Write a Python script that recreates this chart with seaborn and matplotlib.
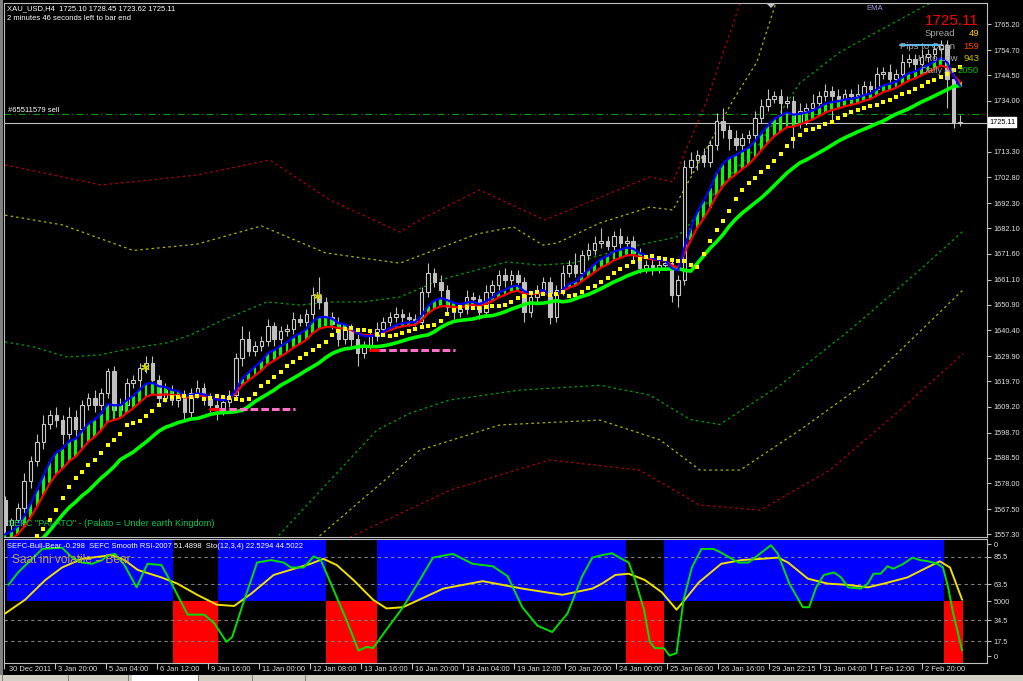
import numpy as np
import pandas as pd
import matplotlib
matplotlib.use('Agg')
import matplotlib.pyplot as plt
import seaborn as sns

# ---------------- data (XAU_USD, H4) ----------------
FIRST_OPEN = 1571.0
closes = [
    1561, 1563, 1568, 1579, 1587, 1595, 1602, 1606, 1604, 1598,
    1605, 1600, 1610, 1613, 1610, 1615, 1624, 1608, 1610, 1619,
    1620, 1625, 1627, 1620, 1613, 1616, 1612, 1614, 1607, 1615,
    1617, 1613, 1610, 1608, 1611, 1614, 1629, 1637, 1632, 1634,
    1636, 1642, 1637, 1640, 1641, 1645, 1644, 1647, 1655, 1652,
    1646, 1643, 1637, 1641, 1637, 1631, 1634, 1638, 1641, 1644,
    1646, 1647, 1646, 1645, 1644, 1656, 1664, 1660, 1657, 1650,
    1648, 1649, 1654, 1653, 1648, 1656, 1659, 1663, 1661, 1663,
    1660, 1648, 1654, 1657, 1660, 1646, 1657, 1664, 1667, 1664,
    1671, 1673, 1676, 1677, 1675, 1679, 1676, 1677, 1672, 1666,
    1667, 1666, 1667, 1668, 1655, 1661, 1707, 1710, 1712, 1709,
    1716, 1726, 1722, 1719, 1716, 1719, 1720, 1727, 1732, 1735,
    1736, 1733, 1734, 1725, 1730, 1731, 1733, 1736, 1738, 1736,
    1735, 1737, 1736, 1737, 1740, 1739, 1745, 1746, 1743, 1745,
    1750, 1751, 1749, 1752, 1753, 1755, 1757, 1743, 1725.10, 1725.11,
]
wick_hi = [
    2, 1, 2, 3, 2, 3, 4, 2, 3, 2,
    4, 3, 2, 2, 3, 2, 1, 2, 3, 2,
    2, 2, 3, 3, 2, 3, 2, 2, 2, 2,
    3, 2, 2, 2, 3, 2, 2, 5, 3, 2,
    2, 3, 2, 2, 2, 3, 2, 2, 3, 7,
    2, 2, 3, 2, 2, 2, 2, 2, 3, 2,
    2, 3, 2, 2, 2, 2, 4, 2, 3, 2,
    2, 2, 3, 2, 2, 3, 2, 2, 3, 2,
    2, 2, 2, 2, 2, 2, 2, 3, 2, 5,
    2, 3, 3, 5, 2, 2, 3, 2, 2, 2,
    2, 3, 2, 2, 2, 2, 3, 3, 2, 3,
    2, 3, 5, 2, 3, 2, 2, 3, 3, 4,
    2, 3, 2, 2, 3, 2, 4, 2, 3, 2,
    3, 2, 2, 4, 2, 2, 3, 2, 3, 2,
    3, 2, 2, 3, 2, 2, 2, 2, 2, 3.34,
]
wick_lo = [
    3, 2, 2, 2, 3, 2, 3, 2, 3, 4,
    2, 3, 2, 2, 3, 2, 2, 3, 2, 2,
    2, 3, 2, 4, 3, 2, 2, 3, 3, 2,
    2, 3, 3, 4, 2, 2, 2, 3, 2, 2,
    2, 2, 3, 2, 2, 2, 2, 2, 2, 3,
    2, 2, 3, 2, 3, 5, 2, 2, 2, 2,
    2, 2, 2, 3, 2, 2, 2, 2, 3, 3,
    3, 2, 2, 2, 3, 2, 2, 2, 3, 2,
    2, 4, 2, 2, 2, 3, 2, 2, 2, 2,
    2, 2, 2, 2, 2, 3, 2, 2, 3, 2,
    2, 3, 2, 2, 3, 5, 2, 3, 4, 2,
    2, 2, 3, 5, 2, 2, 2, 2, 2, 2,
    2, 5, 2, 10, 2, 6, 2, 2, 2, 10,
    2, 2, 2, 2, 2, 3, 2, 2, 2, 2,
    2, 2, 3, 2, 2, 2, 2, 12, 2, 1.48,
]
# indicator levels at the left edge of the window (older history is off-chart)
seed_blue, seed_red, seed_dots, seed_green = 1556, 1553, 1552, 1548

# dotted bands (bar index, price)
up_green_t = [0, 4.4, 9.7, 14.8, 20, 25.3, 28.9, 34, 40.9, 46, 50.7, 55.9, 61.6, 67.9, 78.3,
              83.5, 88.6, 97.5, 104.8, 106.4, 111.5, 117.8, 124, 130.3, 143.8, 149.5]
up_green_p = [1635.7, 1633.7, 1629.5, 1630.4, 1633.2, 1635.3, 1638.5, 1644.6, 1652, 1650.7, 1652,
              1652, 1654, 1661, 1668.3, 1667, 1667.9, 1674.4, 1678.5, 1682.5, 1698.9, 1716.8,
              1741.3, 1754, 1773.2, 1780]
up_yellow_t = [0, 9, 20, 30, 40, 50, 61.6, 73.6, 79.3, 83.9, 86.1, 92.8, 100.6, 104.2, 113.6, 117.3, 121]
up_yellow_p = [1687.4, 1683.4, 1673, 1675.6, 1683, 1672, 1667.8, 1679.7, 1682.6, 1675.2, 1676,
               1684.2, 1690.7, 1689.5, 1734.4, 1749.9, 1780]
up_red_t = [0, 15, 30, 41.3, 50.7, 61.6, 64.7, 74, 84.2, 100.6, 104.2, 109.5, 114.7]
up_red_p = [1707.9, 1699.7, 1703.8, 1709.9, 1693.6, 1680.5, 1685.4, 1697.7, 1685.4, 1703, 1701,
            1734.4, 1774]
lo_green_t = [42.1, 58, 63.2, 69.4, 80.3, 92.8, 100.6, 106.9, 111.5, 120.9, 131.8, 142.7, 149.5]
lo_green_p = [1555, 1599.7, 1606.6, 1612, 1616, 1618, 1614, 1604, 1602, 1618, 1640.5, 1665, 1681]
lo_yellow_t = [48.4, 64.7, 77.2, 92.8, 102.2, 108.4, 114.7, 124, 134.9, 149.5]
lo_yellow_p = [1555, 1591.5, 1601.8, 1603.8, 1595.7, 1583.4, 1583.4, 1599.7, 1620.2, 1657]
lo_red_t = [53, 69.4, 85, 99, 108.4, 117.8, 128.7, 139.6, 149.5]
lo_red_p = [1555, 1575.2, 1587.5, 1583.4, 1569.1, 1567, 1583.4, 1607.8, 1631]

# oscillator window
bull_bear_runs = [(26, 1), (7, -1), (17, 1), (8, -1), (39, 1), (6, -1), (44, 1), (3, -1)]
osc_green_t = [-0.3, 1.2, 5, 8.1, 9.7, 11.2, 12.8, 14.4, 15.3, 16.4, 17.9, 19.8, 21.5, 23.7, 25.3,
               27.8, 30.4, 32, 33.9, 34.8, 36.7, 38.7, 40.9, 42.9, 44, 46, 47.6, 48.7, 51.2, 52.7,
               54.6, 55.9, 56.9, 59, 61.6, 64, 66.3, 69.4, 72.5, 75.7, 78, 80.3, 82.7, 85, 87.4,
               89.7, 91.3, 92.8, 94.4, 95.9, 97, 98, 99.4, 100.3, 101.1, 102.5, 103.4, 104.5,
               105.6, 106.9, 108.4, 110.3, 111.5, 114.2, 115.8, 117.3, 119.3, 120.4, 122.2, 124.3,
               125.3, 126.4, 127.6, 129.2, 130.3, 131.4, 133.4, 134.5, 135.4, 136.5, 137.6, 138.5,
               140.1, 141.5, 142.7, 144, 145.4, 146.3, 147.1, 147.9, 149.3]
osc_green_v = [63, 73, 92, 93, 85, 81, 80, 83, 87, 88, 79, 61, 80, 79, 64,
               39, 39, 32, 17, 21, 51, 81, 83, 81, 77, 77, 86, 83, 53, 35,
               10, 13, 12, 27, 45, 65, 85, 88, 80, 78, 70, 45, 30, 25, 40,
               70, 85, 87, 88.5, 84, 81, 67, 43, 17, 12, 12, 6, 8,
               51, 77, 92, 92, 89, 81, 81, 87, 95, 88, 64, 45,
               45, 61, 71, 73, 69, 61, 60, 64, 72, 72, 78, 76,
               80, 85, 83, 82, 80, 77, 61, 40, 10]
osc_yellow_t = [-0.8, 2.3, 5.5, 8.1, 11.2, 15.9, 17.9, 20, 23.7, 26.2, 29.3, 32.4, 35.1, 37.8, 41.3,
                44.5, 47.1, 49.1, 51.2, 53.8, 56.9, 59, 61.6, 67.9, 74.1, 80.3, 86.6, 91.3, 92.8,
                94.9, 97, 99.5, 102.2, 104.5, 105.8, 108, 111.5, 114.7, 117.8, 120.4, 122, 125.1,
                128.2, 131.4, 134.5, 137, 140.7, 143.8, 145.8, 147.4, 149.3]
osc_yellow_v = [40, 51, 67, 77, 84, 87, 83, 75, 69, 64, 55, 47, 46, 56, 71,
                76, 80, 84, 79, 67, 51, 44, 45, 60, 66, 60, 55, 60, 64,
                71, 72, 67, 57, 43, 51, 65, 80, 83, 84, 85, 81, 68,
                64, 63, 61, 64, 69, 77, 82, 77, 51]

price_ticks = [1765.2, 1754.7, 1744.5, 1734.0, 1713.3, 1702.8, 1692.3, 1682.1, 1671.6, 1661.1,
               1650.9, 1640.4, 1629.9, 1619.7, 1609.2, 1598.7, 1588.5, 1578.0, 1567.5, 1557.3]
time_labels = ["30 Dec 2011", "3 Jan 20:00", "5 Jan 04:00", "6 Jan 12:00", "9 Jan 16:00",
               "11 Jan 00:00", "12 Jan 08:00", "13 Jan 16:00", "16 Jan 20:00", "18 Jan 04:00",
               "19 Jan 12:00", "20 Jan 20:00", "24 Jan 00:00", "25 Jan 08:00", "26 Jan 16:00",
               "29 Jan 22:15", "31 Jan 04:00", "1 Feb 12:00", "2 Feb 20:00"]
osc_levels = [85.5, 63.5, 34.5, 17.5]
osc_tick_pos = [95.8, 85.5, 63.5, 50, 34.5, 17.5, 5.6]
osc_tick_lab = ['0', '85.5', '63.5', '5000', '34.5', '17.5', '0']

SELL_PRICE = 1728.6
BID = 1725.11
pending = [(32, 45.2, 1608.3), (57, 70.2, 1632.4)]
stars = [(21.8, 1625.5), (48.7, 1654.6)]

# ---------------- figure ----------------
sns.set_theme(style='dark', rc={'axes.facecolor': 'black', 'figure.facecolor': 'black'})
plt.rcParams['font.family'] = ['Liberation Sans', 'DejaVu Sans']

W, H = 1023, 681
fig = plt.figure(figsize=(W / 100, H / 100), dpi=100)


def px_box(x0, y0, x1, y1):
    return [x0 / W, 1 - y1 / H, (x1 - x0) / W, (y1 - y0) / H]


def ptext(x, y, s, **kw):
    kw.setdefault('va', 'center')
    fig.text(x / W, 1 - y / H, s, **kw)


FG = '#c0c0c0'
ax = fig.add_axes(px_box(4, 3, 987, 537))
ax2 = fig.add_axes(px_box(4, 539, 987, 663))
XLIM = (-0.16, 153.2)
for a in (ax, ax2):
    a.set_facecolor('black')
    a.set_xlim(*XLIM)
    for sp in a.spines.values():
        sp.set_color(FG)
        sp.set_linewidth(0.8)
    a.grid(False)

ax.set_ylim(1556.08, 1773.97)

bars = np.arange(len(closes))
c = np.array(closes, dtype=float)
o = np.r_[FIRST_OPEN, c[:-1]]
hi = np.maximum(o, c) + np.array(wick_hi)
lo = np.minimum(o, c) - np.array(wick_lo)

# dotted bands
for t, p, col in [(up_green_t, up_green_p, '#00a000'), (up_yellow_t, up_yellow_p, '#b0b000'),
                  (up_red_t, up_red_p, '#b00000'), (lo_green_t, lo_green_p, '#00a000'),
                  (lo_yellow_t, lo_yellow_p, '#b0b000'), (lo_red_t, lo_red_p, '#b00000')]:
    sns.lineplot(x=t, y=p, ax=ax, color=col, linewidth=0.9, linestyle=(0, (2, 2.5)), zorder=1)

# order lines
ax.axhline(SELL_PRICE, color='#00a000', lw=0.8, linestyle=(0, (6, 3, 1, 3)), zorder=1)
ax.axhline(BID, color=FG, lw=0.8, zorder=1)
for b0, b1, p in pending:
    ax.plot([b0 + 1.2, b1], [p, p], color='#ff6ec7', lw=2.2, linestyle=(0, (2.5, 1)), zorder=6)
    ax.plot([b0, b0 + 1.2], [p, p], color='#ff0000', lw=2.2, zorder=6)

# candles
ax.vlines(bars, lo, hi, color=FG, lw=0.8, zorder=2)
up = c >= o
body = np.maximum(np.abs(c - o), 0.35)
ax.bar(bars[up], body[up], bottom=np.minimum(o, c)[up], width=0.55,
       facecolor='black', edgecolor='#c8c8c8', linewidth=0.8, zorder=3)
ax.bar(bars[~up], body[~up], bottom=np.minimum(o, c)[~up], width=0.55,
       facecolor='#c0c0c0', edgecolor='#c0c0c0', linewidth=0.8, zorder=3)


def ema(span, seed, shift=0):
    pre = np.r_[[seed] * (shift + 1), c]
    out = pd.Series(pre).ewm(span=span, adjust=False).mean().shift(shift)
    return out.iloc[shift + 1:].to_numpy()


# moving-average indicators recomputed from the candles
blue = ema(8, seed_blue)
red = ema(13, seed_red)
dots = ema(14, seed_dots, shift=3)
green = ema(26, seed_green, shift=2)

hist_col = np.where(blue >= red, '#00ff00', '#ffa500')
ax.bar(bars, blue - red, bottom=red, width=0.45, color=hist_col, linewidth=0, zorder=4)
sns.lineplot(x=bars, y=green, ax=ax, color='#00ff00', linewidth=2.6, zorder=5)
sns.lineplot(x=bars, y=red, ax=ax, color='#ff0000', linewidth=1.6, zorder=5)
sns.lineplot(x=bars, y=blue, ax=ax, color='#0000ff', linewidth=1.6, zorder=5)
sns.scatterplot(x=bars, y=dots, ax=ax, color='#ffff00', marker='s', s=5, linewidth=0, zorder=6)
for bx, py in stars:
    ax.plot(bx, py, marker=(6, 2, 0), ms=6, color='#d0d000', mew=0.9, zorder=7)

# price axis
ax.yaxis.tick_right()
ax.set_yticks(price_ticks)
ax.set_yticklabels([f'{v:.2f}' for v in price_ticks])
ax.tick_params(axis='y', colors=FG, labelcolor='#e0e0e0', labelsize=5.3, length=3, width=0.8,
               pad=1.5, left=False, right=True)
ax.tick_params(axis='x', bottom=False, labelbottom=False)
ax.set_xlabel('')
ax.set_ylabel('')

# ---------------- oscillator window ----------------
ax2.set_ylim(0, 100)
sign = np.concatenate([[v] * n for n, v in bull_bear_runs])
ax2.bar(bars[sign > 0], 50, bottom=50, width=1.0, color='#0000ff', linewidth=0, zorder=1)
ax2.bar(bars[sign < 0], 50, bottom=0, width=1.0, color='#ff0000', linewidth=0, zorder=1)
for lv in osc_levels:
    ax2.axhline(lv, color='#808080', lw=0.8, linestyle=(0, (3, 3)), zorder=2)
sns.lineplot(x=osc_yellow_t, y=osc_yellow_v, ax=ax2, color='#f0e000', linewidth=1.4, zorder=3)
sns.lineplot(x=osc_green_t, y=osc_green_v, ax=ax2, color='#00e000', linewidth=1.4, zorder=4)
ax2.yaxis.tick_right()
ax2.set_yticks(osc_tick_pos)
ax2.set_yticklabels(osc_tick_lab)
ax2.tick_params(axis='y', colors=FG, labelcolor='#e0e0e0', labelsize=5.3, length=3, width=0.8,
                pad=1.5, left=False, right=True)
tick_bars = [-1 + 8 * k for k in range(len(time_labels))]
ax2.set_xticks(tick_bars)
ax2.set_xticklabels([])
ax2.tick_params(axis='x', colors=FG, length=4, width=0.8, bottom=True, direction='out')
ax2.set_xlabel('')
ax2.set_ylabel('')
for b, lab in zip(tick_bars, time_labels):
    ax2.annotate(lab, xy=(max(b, 0), 0), xycoords=('data', 'axes fraction'),
                 xytext=(3 if b > 0 else -1, -3), textcoords='offset pixels',
                 va='top', ha='left', fontsize=5.4, color='#e0e0e0')

# ---------------- texts ----------------
ptext(7, 9, 'XAU_USD,H4  1725.10 1728.45 1723.62 1725.11', fontsize=5.5, color='white')
ptext(7, 18, '2 minutes 46 seconds left to bar end', fontsize=5.5, color='white')
ptext(8, 110, '#65511579 sell', fontsize=5.5, color='white')
ptext(8, 523, 'SEFC "PALATO" - (Palato = Under earth Kingdom)', fontsize=6.6, color='#00c850')
ptext(7, 546, 'SEFC-Bull-Bear -0.298  SEFC Smooth RSI-2007 51.4898  Sto(12,3,4) 22.5294 44.5022',
      fontsize=5.5, color='white')
ptext(12, 560, 'Saat ini volatile = Bear', fontsize=8.6, color='#c0a840')
ptext(866, 8, 'EMA', fontsize=5.5, color='#a0a0e0')
ptext(979, 21, '1725.11', fontsize=11, color='#ff0000', ha='right')
rows = [('Spread', '49', '#ffcc00', 925), ('Pips to Open', '159', '#ff4000', 900),
        ('Hi to Low', '943', '#d0c000', 918), ('Daily Av', '2050', '#00c000', 921)]
for i, (lab, val, col, x0) in enumerate(rows):
    y = 34 + i * 12.3
    ptext(x0, y, lab, fontsize=6.8, color='#a8a8a8', ha='left')
    ptext(979, y, val, fontsize=6.8, color=col, ha='right')
ax.plot([139.6, 145.9], [1756.7, 1756.7], color='#40c0ff', lw=1.5, zorder=8)

# current price box on the axis
ptext(989, 122, '1725.11', fontsize=5.3, color='black', ha='left',
      bbox=dict(boxstyle='square,pad=0.15', facecolor='white', edgecolor='white'))
# chart shift marker
fig.patches.append(plt.Polygon([[766 / W, 1 - 3 / H], [776 / W, 1 - 3 / H], [771 / W, 1 - 8 / H]],
                               closed=True, transform=fig.transFigure, facecolor='#c0c0c0',
                               edgecolor='none'))

# window frame and tab bar
fig.patches.append(plt.Rectangle((0, 0), 3 / W, 1, transform=fig.transFigure,
                                 facecolor='#808080', edgecolor='none'))
fig.patches.append(plt.Rectangle((0, 0), 1, 6 / H, transform=fig.transFigure,
                                 facecolor='#d4d0c8', edgecolor='none'))
fig.patches.append(plt.Rectangle((132 / W, 0), 66 / W, 6 / H, transform=fig.transFigure,
                                 facecolor='white', edgecolor='none'))
for xs in (2, 68, 128, 198, 252, 305):
    fig.patches.append(plt.Rectangle((xs / W, 0), 1 / W, 6 / H, transform=fig.transFigure,
                                     facecolor='#808080', edgecolor='none'))

fig.savefig('out.png', dpi=100, facecolor='black')
